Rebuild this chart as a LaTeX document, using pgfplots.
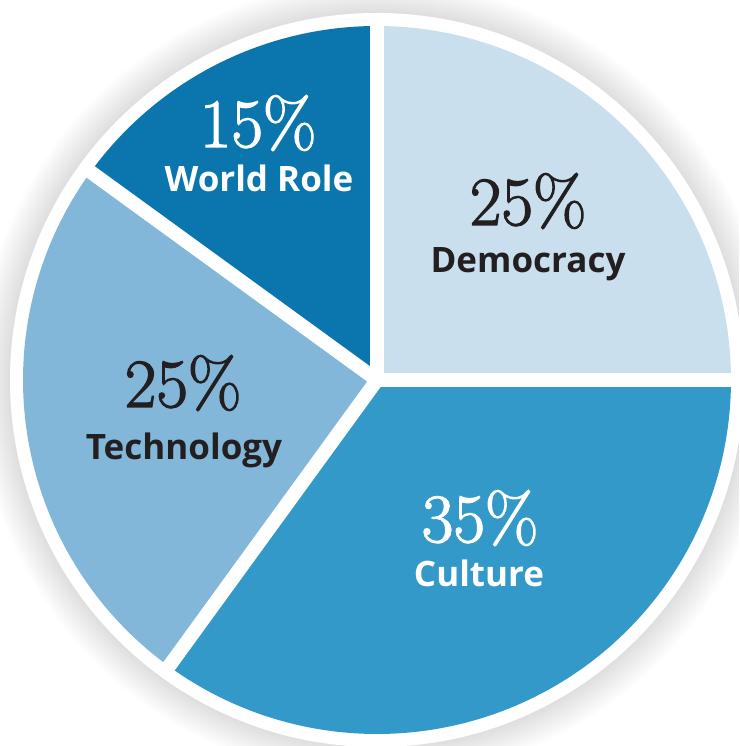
\documentclass[border=0pt]{standalone}
\usepackage{pgfplots}
\pgfplotsset{compat=1.18}
\usepackage{fontspec}
\newfontfamily\lbl{Open Sans}
\newcommand{\heavy}[1]{\special{pdf:literal direct 2 Tr 1.3 w}#1\special{pdf:literal direct 0 Tr}}
\definecolor{cWorld}{HTML}{0A76AD}
\definecolor{cDemo}{HTML}{C9DFEE}
\definecolor{cTech}{HTML}{82B7D9}
\definecolor{cCult}{HTML}{3399C9}
\definecolor{cDark}{HTML}{231F20}
\begin{document}
\begin{tikzpicture}[x=1pt,y=1pt]
\useasboundingbox (0,0) rectangle (739,746);
\clip (0,0) rectangle (739,746);
\foreach \i in {16,15,...,1} \fill[black, opacity=0.009] (377,366) circle ({367+2*\i});
\fill[white] (377,366) circle (367);
\begin{axis}[at={(0,0)}, anchor=south west, x=1pt, y=1pt,
  xmin=-377, xmax=362, ymin=-366, ymax=380, hide axis, clip=false]
% shares: Democracy 25%, Culture 35%, Technology 25%, World Role 15%
% angles (deg, counter-clockwise from east), start at 90, clockwise
\addplot[fill=cDemo, draw=none, data cs=polar, domain=90:0, samples=120] (x,354) -- (axis cs:0,0) -- cycle;
\addplot[fill=cCult, draw=none, data cs=polar, domain=0:-126, samples=160] (x,354) -- (axis cs:0,0) -- cycle;
\addplot[fill=cTech, draw=none, data cs=polar, domain=-126:-216, samples=120] (x,354) -- (axis cs:0,0) -- cycle;
\addplot[fill=cWorld, draw=none, data cs=polar, domain=-216:-270, samples=80] (x,354) -- (axis cs:0,0) -- cycle;
% separators
\addplot[white, line width=14pt, data cs=polar] coordinates {(90,0) (90,362)};
\addplot[white, line width=14pt, data cs=polar] coordinates {(0,0) (0,362)};
\addplot[white, line width=14pt, data cs=polar] coordinates {(-126,0) (-126,362)};
\addplot[white, line width=14pt, data cs=polar] coordinates {(144,0) (144,362)};
% labels
\tikzset{pctstyle/.style={anchor=base, font=\fontsize{69}{69}\selectfont},
         catstyle/.style={anchor=base, font=\lbl\bfseries\fontsize{35}{35}\selectfont}}
\node[pctstyle, text=white] at (axis cs:-119,233) {\heavy{15\%}};
\node[catstyle, text=white] at (axis cs:-118,188) {World Role};
\node[pctstyle, text=cDark] at (axis cs:151,155) {\heavy{25\%}};
\node[catstyle, text=cDark] at (axis cs:151,107) {Democracy};
\node[pctstyle, text=cDark] at (axis cs:-194,-27) {\heavy{25\%}};
\node[catstyle, text=cDark] at (axis cs:-193,-80) {Technology};
\node[pctstyle, text=white] at (axis cs:103,-162) {\heavy{35\%}};
\node[catstyle, text=white] at (axis cs:102,-207) {Culture};
\end{axis}
\end{tikzpicture}
\end{document}
